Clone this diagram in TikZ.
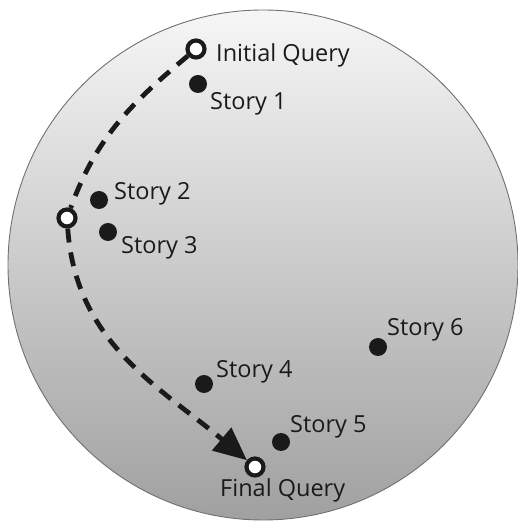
\documentclass[tikz,border=0pt]{standalone}
\usepackage{fontspec}
\setmainfont{Open Sans}
\usetikzlibrary{arrows.meta}
\definecolor{disktop}{HTML}{F6F6F6}
\definecolor{diskbot}{HTML}{A0A0A0}
\definecolor{rim}{HTML}{707070}
\definecolor{ink}{HTML}{1A1A1A}
\begin{document}
\begin{tikzpicture}[x=1pt,y=1pt,
  story/.style={circle,fill=ink,inner sep=0pt,minimum size=18pt},
  query/.style={circle,draw=ink,fill=white,line width=4.2pt,inner sep=0pt,minimum size=17pt},
  lbl/.style={anchor=base west,inner sep=0pt,text=ink,font=\fontsize{23.5}{26}\selectfont},
  trail/.style={draw=ink,line width=4.8pt,dash pattern=on 14pt off 10pt}
]
\useasboundingbox (0,0) rectangle (517,522);

% the disk of stories
\shade[top color=disktop,bottom color=diskbot] (263,257) circle (255);
\draw[rim,line width=0.9pt] (263,257) circle (255);

% queries
\node[query] (qi) at (196,473) {};
\node[query] (qm) at (67,304) {};
\node[query] (qf) at (255,55) {};

% stories
\node[story] (s1) at (198,438) {};
\node[story] (s2) at (99,322) {};
\node[story] (s3) at (108,290) {};
\node[story] (s4) at (204,138) {};
\node[story] (s5) at (281,80) {};
\node[story] (s6) at (378,175) {};

% labels
\node[lbl] (lqi) at (216,460) {Initial Query};
\node[lbl] (l1) at (210,412) {Story 1};
\node[lbl] (l2) at (114,322) {Story 2};
\node[lbl] (l3) at (121,268) {Story 3};
\node[lbl] (l4) at (216,144) {Story 4};
\node[lbl] (l5) at (290,89) {Story 5};
\node[lbl] (l6) at (387,186) {Story 6};
\node[lbl] (lqf) at (220,25) {Final Query};

% query refinement path
\draw[trail] (qi) to[out=220,in=70] (qm);
\draw[trail,-{Triangle[length=33pt,width=29pt]}] (qm) to[out=274,in=140] (qf);
\end{tikzpicture}
\end{document}
